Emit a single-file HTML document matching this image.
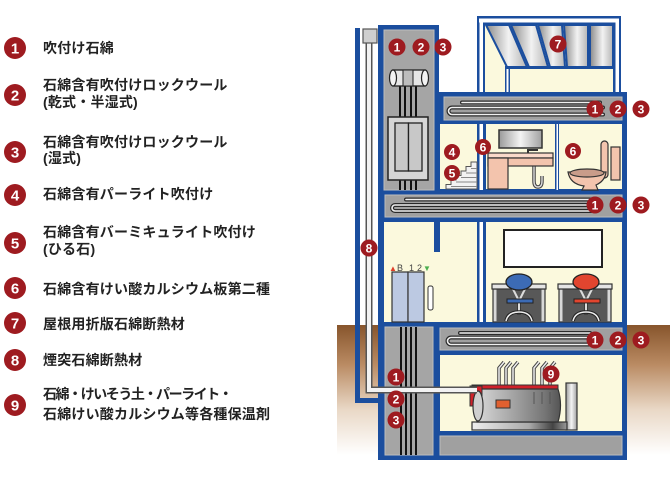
<!DOCTYPE html>
<html><head><meta charset="utf-8"><style>
html,body{margin:0;padding:0;background:#fff;width:670px;height:480px;overflow:hidden}
svg{display:block}
.lg{font-family:"Liberation Sans","Noto Sans CJK JP",sans-serif;font-size:14px;font-weight:bold;fill:#222;letter-spacing:0.2px}
.n{font-family:"Liberation Sans",sans-serif;font-weight:bold;fill:#fff;text-anchor:middle}
</style></head><body>
<svg width="670" height="480" viewBox="0 0 670 480" xmlns="http://www.w3.org/2000/svg">
<defs>
 <linearGradient id="gnd" x1="0" y1="0" x2="0" y2="1">
  <stop offset="0" stop-color="#87552c"/>
  <stop offset="0.3" stop-color="#b98a62"/>
  <stop offset="0.65" stop-color="#e9d8c6"/>
  <stop offset="1" stop-color="#ffffff"/>
 </linearGradient>
 <linearGradient id="met" x1="0" y1="0" x2="1" y2="0">
  <stop offset="0" stop-color="#9a9a9a"/><stop offset="0.5" stop-color="#f4f4f4"/><stop offset="1" stop-color="#a0a0a0"/>
 </linearGradient>
 <linearGradient id="roof" x1="0" y1="0" x2="1" y2="0">
  <stop offset="0" stop-color="#8a8a8a"/><stop offset="0.55" stop-color="#f2f2f2"/><stop offset="1" stop-color="#b4b4b4"/>
 </linearGradient>
 <linearGradient id="body" x1="0" y1="0" x2="1" y2="0">
  <stop offset="0" stop-color="#d8d8d8"/><stop offset="0.4" stop-color="#a8a8a8"/><stop offset="0.8" stop-color="#777"/><stop offset="1" stop-color="#555"/>
 </linearGradient>
 <linearGradient id="base" x1="0" y1="0" x2="1" y2="0">
  <stop offset="0" stop-color="#eee"/><stop offset="0.6" stop-color="#aaa"/><stop offset="0.85" stop-color="#444"/><stop offset="1" stop-color="#999"/>
 </linearGradient>
</defs>

<!-- Legend -->
<g>
 <circle cx="15" cy="48" r="11" fill="#9e1b20"/><text class="n" x="15" y="53.5" font-size="15">1</text>
 <text class="lg" x="43" y="53">吹付け石綿</text>

 <circle cx="15" cy="95" r="11" fill="#9e1b20"/><text class="n" x="15" y="100.5" font-size="15">2</text>
 <text class="lg" x="43" y="90">石綿含有吹付けロックウール</text>
 <text class="lg" x="43" y="107">(乾式・半湿式)</text>

 <circle cx="15" cy="152" r="11" fill="#9e1b20"/><text class="n" x="15" y="157.5" font-size="15">3</text>
 <text class="lg" x="43" y="147">石綿含有吹付けロックウール</text>
 <text class="lg" x="43" y="163">(湿式)</text>

 <circle cx="15" cy="195" r="11" fill="#9e1b20"/><text class="n" x="15" y="200.5" font-size="15">4</text>
 <text class="lg" x="43" y="199">石綿含有パーライト吹付け</text>

 <circle cx="15" cy="243" r="11" fill="#9e1b20"/><text class="n" x="15" y="248.5" font-size="15">5</text>
 <text class="lg" x="43" y="237">石綿含有バーミキュライト吹付け</text>
 <text class="lg" x="43" y="254">(ひる石)</text>

 <circle cx="15" cy="288" r="11" fill="#9e1b20"/><text class="n" x="15" y="293.5" font-size="15">6</text>
 <text class="lg" x="43" y="294">石綿含有けい酸カルシウム板第二種</text>

 <circle cx="15" cy="323" r="11" fill="#9e1b20"/><text class="n" x="15" y="328.5" font-size="15">7</text>
 <text class="lg" x="43" y="329">屋根用折版石綿断熱材</text>

 <circle cx="15" cy="360" r="11" fill="#9e1b20"/><text class="n" x="15" y="365.5" font-size="15">8</text>
 <text class="lg" x="43" y="365">煙突石綿断熱材</text>

 <circle cx="15" cy="405" r="11" fill="#9e1b20"/><text class="n" x="15" y="410.5" font-size="15">9</text>
 <text class="lg" x="43" y="399" textLength="190">石綿・けいそう土・パーライト・</text>
 <text class="lg" x="43" y="419">石綿けい酸カルシウム等各種保温剤</text>
</g>

<!-- Ground -->
<rect x="337" y="325" width="333" height="130" fill="url(#gnd)"/>

<!-- Chimney enclosure -->
<rect x="355" y="28" width="5" height="375" fill="#1b4e9e"/>
<rect x="355" y="398" width="25" height="5" fill="#1b4e9e"/>

<!-- Building blue structure -->
<rect x="378" y="25" width="61" height="435" fill="#1b4e9e"/>
<rect x="439" y="92" width="188" height="368" fill="#1b4e9e"/>

<!-- Penthouse -->
<rect x="477" y="16" width="144" height="76" fill="#1b4e9e"/>
<rect x="479" y="18.5" width="140" height="4" fill="#fff"/>
<rect x="479.5" y="22" width="3.5" height="70" fill="#fff"/>
<rect x="615.5" y="22" width="3.5" height="70" fill="#fff"/>
<rect x="485" y="25" width="128" height="67" fill="#fbf9dd"/>
<g fill="url(#roof)" stroke="#1b4e9e" stroke-width="2">
 <polygon points="486,25 509,25 527,67 507,67"/>
 <polygon points="511,25 536,25 548,67 529,67"/>
 <polygon points="538,25 562,25 565,67 550,67"/>
 <polygon points="564,25 588,25 588,67 567,67"/>
 <polygon points="590,25 613,25 613,67 590,67"/>
</g>
<rect x="505" y="66" width="108" height="3" fill="#1b4e9e"/>
<rect x="505" y="66" width="5" height="26" fill="#1b4e9e"/>
<rect x="506.5" y="69" width="2" height="23" fill="#fff"/>
<circle cx="558" cy="44" r="8.5" fill="#9e1b20"/><text class="n" x="558" y="48.5" font-size="12">7</text>

<!-- Shaft upper -->
<rect x="384" y="30" width="50" height="160" fill="#a5a5a5" stroke="#bdbdbd" stroke-width="1"/>
<g stroke="#111" stroke-width="2">
 <line x1="400" y1="86" x2="400" y2="117"/><line x1="405" y1="86" x2="405" y2="117"/>
 <line x1="411" y1="86" x2="411" y2="117"/><line x1="416" y1="86" x2="416" y2="117"/>
 <line x1="400" y1="180" x2="400" y2="190"/><line x1="405" y1="180" x2="405" y2="190"/>
 <line x1="411" y1="180" x2="411" y2="190"/><line x1="416" y1="180" x2="416" y2="190"/>
</g>
<rect x="393" y="70" width="32" height="16" fill="#e6e6e6" stroke="#222" stroke-width="1.3"/>
<rect x="403" y="70" width="10" height="16" fill="#bdbdbd" stroke="#222" stroke-width="1"/>
<ellipse cx="393" cy="78" rx="3.5" ry="8" fill="#f2f2f2" stroke="#222" stroke-width="1.2"/>
<ellipse cx="425" cy="78" rx="3.5" ry="8" fill="#f2f2f2" stroke="#222" stroke-width="1.2"/>
<rect x="388" y="117" width="40" height="63" fill="#d6d6d6" stroke="#222" stroke-width="1.5"/>
<rect x="395" y="123" width="13.5" height="48" fill="#c8c8c8" stroke="#222" stroke-width="1.3"/>
<rect x="408.5" y="123" width="13.5" height="48" fill="#c8c8c8" stroke="#222" stroke-width="1.3"/>
<circle cx="397" cy="47" r="8.5" fill="#9e1b20"/><text class="n" x="397" y="51.5" font-size="12">1</text>
<circle cx="421" cy="47" r="8.5" fill="#9e1b20"/><text class="n" x="421" y="51.5" font-size="12">2</text>
<circle cx="443" cy="47" r="8.5" fill="#9e1b20"/><text class="n" x="443" y="51.5" font-size="12">3</text>

<!-- Top slab -->
<rect x="444" y="97" width="178" height="23" fill="#a0a0a0" stroke="#bdbdbd" stroke-width="1"/>
<g fill="none" stroke-linecap="round">
 <path d="M462 102.5 H600 M603 107.5 H452 a3.5 3.5 0 0 0 0 7 H603" stroke="#2a2a2a" stroke-width="4"/>
 <path d="M462 102.5 H600 M603 107.5 H452 a3.5 3.5 0 0 0 0 7 H603" stroke="#f0f0f0" stroke-width="1.6"/>
</g>

<!-- Floor 2 -->
<rect x="440" y="124" width="37" height="65" fill="#fbf9dd"/>
<rect x="479.5" y="124" width="3.5" height="66" fill="#fff"/>
<rect x="486" y="124" width="69" height="65" fill="#fbf9dd"/>
<rect x="556.5" y="124" width="1.5" height="66" fill="#fff"/>
<rect x="559" y="124" width="63" height="65" fill="#fbf9dd"/>
<!-- stairs -->
<polygon points="446,189 446,184.5 451,184.5 451,180 456,180 456,175.5 461,175.5 461,171 466,171 466,166.5 471,166.5 471,162 477,162 477,189" fill="#f2f2f2" stroke="#555" stroke-width="1"/>
<g stroke="#888" stroke-width="1">
 <line x1="451" y1="186.5" x2="477" y2="186.5"/><line x1="456" y1="182" x2="477" y2="182"/>
 <line x1="461" y1="177.5" x2="477" y2="177.5"/><line x1="466" y1="173" x2="477" y2="173"/>
 <line x1="471" y1="168.5" x2="477" y2="168.5"/>
</g>
<!-- vanity -->
<rect x="499" y="130" width="43" height="18" fill="url(#met)" stroke="#333" stroke-width="1.5"/>
<path d="M528 153 V150 H538" fill="none" stroke="#333" stroke-width="2"/>
<path d="M534 166 V181 q0 6 4 6 q4 0 4 -6 V176" fill="none" stroke="#444" stroke-width="3.5"/>
<path d="M534 166 V181 q0 6 4 6 q4 0 4 -6 V176" fill="none" stroke="#ddd" stroke-width="1.4"/>
<rect x="488" y="153" width="65" height="5" fill="#f9d9ca" stroke="#333" stroke-width="1.2"/>
<rect x="488" y="158" width="65" height="8" fill="#f3c4ad" stroke="#333" stroke-width="1.2"/>
<rect x="488" y="158" width="20" height="31" fill="#f3c4ad" stroke="#333" stroke-width="1.2"/>
<!-- toilet -->
<rect x="611" y="147" width="9" height="33" fill="#f3c4ad" stroke="#333" stroke-width="1.2"/>
<rect x="601" y="141" width="7" height="37" rx="3.5" fill="#f3c4ad" stroke="#333" stroke-width="1.2"/>
<path d="M568 172 Q570 184 584 186 L582 190 L598 190 L596 185 Q605 181 606 172 Z" fill="#f3c4ad" stroke="#333" stroke-width="1.2"/>
<ellipse cx="587" cy="173" rx="17" ry="4" fill="#c99c8a" stroke="#333" stroke-width="1.2"/>
<circle cx="452" cy="152" r="8" fill="#9e1b20"/><text class="n" x="452" y="156.5" font-size="12">4</text>
<circle cx="452" cy="173" r="8" fill="#9e1b20"/><text class="n" x="452" y="177.5" font-size="12">5</text>
<circle cx="483" cy="147" r="8" fill="#9e1b20"/><text class="n" x="483" y="151.5" font-size="12">6</text>
<circle cx="573" cy="151" r="8" fill="#9e1b20"/><text class="n" x="573" y="155.5" font-size="12">6</text>

<!-- Slab 2 -->
<rect x="385" y="195" width="237" height="22" fill="#a0a0a0" stroke="#bdbdbd" stroke-width="1"/>
<g fill="none" stroke-linecap="round">
 <path d="M406 199.5 H590 M594 205 H395 a3 3 0 0 0 0 6 H594" stroke="#2a2a2a" stroke-width="4"/>
 <path d="M406 199.5 H590 M594 205 H395 a3 3 0 0 0 0 6 H594" stroke="#f0f0f0" stroke-width="1.6"/>
</g>

<!-- Floor 1 -->
<rect x="384" y="222" width="93" height="100" fill="#fbf9dd"/>
<rect x="479.5" y="222" width="3.5" height="100" fill="#fff"/>
<rect x="486" y="222" width="136" height="100" fill="#fbf9dd"/>
<rect x="434" y="222" width="6" height="30" fill="#1b4e9e"/>
<text x="389" y="271" font-family="Liberation Sans,sans-serif" font-size="8" fill="#e0402a">▲</text>
<text x="397" y="271" font-family="Liberation Sans,sans-serif" font-size="9" fill="#444">B</text>
<text x="409" y="271" font-family="Liberation Sans,sans-serif" font-size="9" fill="#444">1</text>
<text x="417" y="271" font-family="Liberation Sans,sans-serif" font-size="9" fill="#444">2</text>
<text x="423" y="271" font-family="Liberation Sans,sans-serif" font-size="8" fill="#4caf50">▼</text>
<rect x="392" y="272" width="16" height="50" fill="#bcc9e2" stroke="#333" stroke-width="1.2"/>
<rect x="408" y="272" width="16" height="50" fill="#bcc9e2" stroke="#333" stroke-width="1.2"/>
<rect x="428" y="286" width="5" height="24" rx="2" fill="#fff" stroke="#333" stroke-width="1"/>
<rect x="504" y="230" width="98" height="37" fill="#fff" stroke="#222" stroke-width="2"/>
<!-- desks & chairs -->
<g>
 <rect x="493" y="289" width="52" height="33" fill="#d8d8d8" stroke="#333" stroke-width="1.2"/>
 <rect x="496.5" y="289" width="45" height="33" fill="#585858"/>
 <rect x="492" y="284" width="54" height="5" fill="#e4e4e4" stroke="#333" stroke-width="1.2"/>
 <path d="M513 289 L518 299 M525 289 L520 299" stroke="#ddd" stroke-width="2"/>
 <ellipse cx="519" cy="282" rx="13" ry="8" fill="#3c6bb5" stroke="#222" stroke-width="1.3"/>
 <rect x="507" y="299" width="26" height="4" fill="#3c6bb5" stroke="#222" stroke-width="1"/>
 <rect x="517.5" y="303" width="3" height="11" fill="#ddd" stroke="#222" stroke-width="0.8"/>
 <path d="M506 321 Q508 312 519 312 Q530 312 532 321" fill="none" stroke="#222" stroke-width="3.5"/>
 <path d="M506 321 Q508 312 519 312 Q530 312 532 321" fill="none" stroke="#eee" stroke-width="1.5"/>
</g>
<g>
 <rect x="559" y="289" width="52" height="33" fill="#d8d8d8" stroke="#333" stroke-width="1.2"/>
 <rect x="562.5" y="289" width="45" height="33" fill="#585858"/>
 <rect x="558" y="284" width="54" height="5" fill="#e4e4e4" stroke="#333" stroke-width="1.2"/>
 <path d="M580 289 L585 299 M592 289 L587 299" stroke="#ddd" stroke-width="2"/>
 <ellipse cx="586" cy="282" rx="13" ry="8" fill="#e2452f" stroke="#222" stroke-width="1.3"/>
 <rect x="574" y="299" width="26" height="4" fill="#e2452f" stroke="#222" stroke-width="1"/>
 <rect x="584.5" y="303" width="3" height="11" fill="#ddd" stroke="#222" stroke-width="0.8"/>
 <path d="M573 321 Q575 312 586 312 Q597 312 599 321" fill="none" stroke="#222" stroke-width="3.5"/>
 <path d="M573 321 Q575 312 586 312 Q597 312 599 321" fill="none" stroke="#eee" stroke-width="1.5"/>
</g>

<!-- Slab 3 -->
<rect x="440" y="328" width="182" height="22" fill="#a0a0a0" stroke="#bdbdbd" stroke-width="1"/>
<g fill="none" stroke-linecap="round">
 <path d="M460 333 H590 M595 337.5 H451 a3.5 3.5 0 0 0 0 7 H595" stroke="#2a2a2a" stroke-width="4"/>
 <path d="M460 333 H590 M595 337.5 H451 a3.5 3.5 0 0 0 0 7 H595" stroke="#f0f0f0" stroke-width="1.6"/>
</g>

<!-- Lower shaft -->
<rect x="385" y="327" width="48" height="128" fill="#a5a5a5" stroke="#bdbdbd" stroke-width="1"/>
<g stroke="#111" stroke-width="2">
 <line x1="401" y1="327" x2="401" y2="455"/><line x1="406" y1="327" x2="406" y2="455"/>
 <line x1="411" y1="327" x2="411" y2="455"/><line x1="416" y1="327" x2="416" y2="455"/>
</g>

<!-- Basement -->
<rect x="440" y="355" width="182" height="76" fill="#fbf9dd"/>
<rect x="440" y="436" width="182" height="19" fill="#a0a0a0" stroke="#bdbdbd" stroke-width="1"/>

<!-- Boiler -->
<rect x="566" y="383" width="11" height="47" fill="url(#met)" stroke="#333" stroke-width="1.2"/>
<rect x="472" y="422" width="95" height="8" fill="url(#base)" stroke="#333" stroke-width="1.2"/>
<g fill="none">
 <path d="M499 398 V368 l5 -6 M506 398 V368 l5 -6 M513 398 V368 l5 -6 M534 398 V368 l5 -6 M542 398 V368 l5 -6 M550 398 V368 l5 -6" stroke="#444" stroke-width="3.5"/>
 <path d="M499 398 V368 l5 -6 M506 398 V368 l5 -6 M513 398 V368 l5 -6 M534 398 V368 l5 -6 M542 398 V368 l5 -6 M550 398 V368 l5 -6" stroke="#eee" stroke-width="1.5"/>
</g>
<rect x="472" y="385" width="86" height="7" fill="#d0212a" stroke="#333" stroke-width="1"/>
<path d="M477 389 H558 Q563 405 558 422 H477 Z" fill="url(#body)" stroke="#333" stroke-width="1.2"/>
<rect x="470" y="386" width="12" height="20" fill="#d0212a" stroke="#333" stroke-width="1"/>
<ellipse cx="478" cy="406" rx="5" ry="15" fill="#cfcfcf" stroke="#333" stroke-width="1.2"/>
<rect x="496" y="400" width="14" height="8" fill="#e06030" stroke="#333" stroke-width="1"/>
<g stroke="#555" stroke-width="1"><line x1="534" y1="392" x2="534" y2="404"/><line x1="542" y1="392" x2="542" y2="404"/><line x1="550" y1="392" x2="550" y2="404"/></g>

<!-- Chimney pipe (8) -->
<path d="M369 43 V390 H477" fill="none" stroke="#555" stroke-width="7"/>
<path d="M369 43 V390 H477" fill="none" stroke="#f2f2f2" stroke-width="4"/>
<rect x="363" y="29" width="14" height="14" fill="#cfcfcf" stroke="#555" stroke-width="1.2"/>

<!-- Circles -->
<g>
 <circle cx="595" cy="109" r="8.5" fill="#9e1b20"/><text class="n" x="595" y="113.5" font-size="12">1</text>
 <circle cx="618" cy="109" r="8.5" fill="#9e1b20"/><text class="n" x="618" y="113.5" font-size="12">2</text>
 <circle cx="641" cy="109" r="8.5" fill="#9e1b20"/><text class="n" x="641" y="113.5" font-size="12">3</text>
 <circle cx="595" cy="205" r="8.5" fill="#9e1b20"/><text class="n" x="595" y="209.5" font-size="12">1</text>
 <circle cx="618" cy="205" r="8.5" fill="#9e1b20"/><text class="n" x="618" y="209.5" font-size="12">2</text>
 <circle cx="641" cy="205" r="8.5" fill="#9e1b20"/><text class="n" x="641" y="209.5" font-size="12">3</text>
 <circle cx="595" cy="340" r="8.5" fill="#9e1b20"/><text class="n" x="595" y="344.5" font-size="12">1</text>
 <circle cx="618" cy="340" r="8.5" fill="#9e1b20"/><text class="n" x="618" y="344.5" font-size="12">2</text>
 <circle cx="641" cy="340" r="8.5" fill="#9e1b20"/><text class="n" x="641" y="344.5" font-size="12">3</text>
 <circle cx="369" cy="248" r="8.5" fill="#9e1b20"/><text class="n" x="369" y="252.5" font-size="12">8</text>
 <circle cx="396" cy="377" r="8.5" fill="#9e1b20"/><text class="n" x="396" y="381.5" font-size="12">1</text>
 <circle cx="396" cy="399" r="8.5" fill="#9e1b20"/><text class="n" x="396" y="403.5" font-size="12">2</text>
 <circle cx="396" cy="420" r="8.5" fill="#9e1b20"/><text class="n" x="396" y="424.5" font-size="12">3</text>
 <circle cx="551" cy="374" r="8.5" fill="#9e1b20"/><text class="n" x="551" y="378.5" font-size="12">9</text>
</g>
</svg>
</body></html>
